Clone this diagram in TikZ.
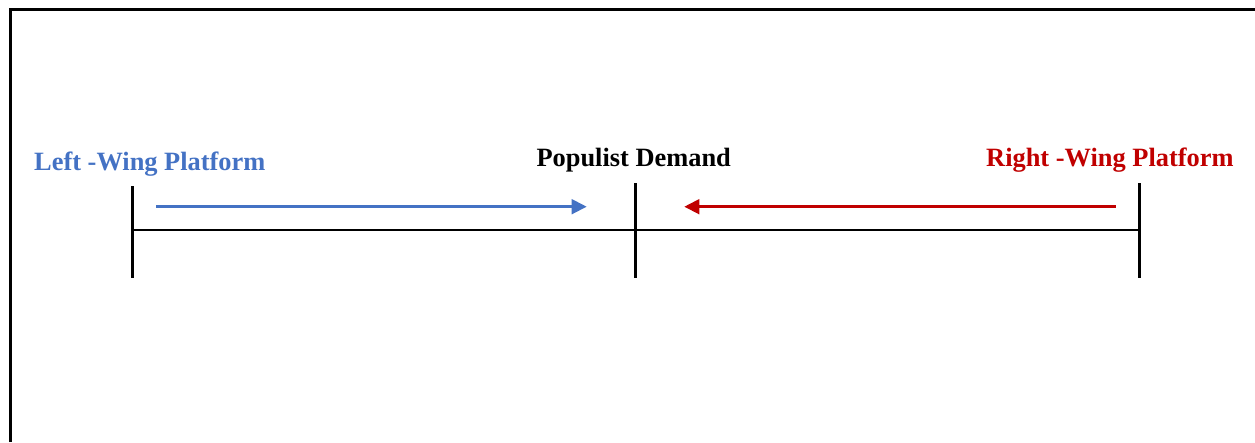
\documentclass[tikz,border=0pt]{standalone}
\usepackage{fontspec}
\setmainfont{Liberation Serif}
\usetikzlibrary{arrows.meta}
\definecolor{leftblue}{RGB}{68,114,196}
\definecolor{rightred}{RGB}{192,0,0}
\begin{document}
\begin{tikzpicture}[x=1pt,y=-1pt,
  lbl/.style={inner sep=0pt,font=\bfseries\fontsize{26.4}{30}\selectfont},
  tickline/.style={line width=2.8pt,black},
  axisline/.style={line width=2.8pt,black},
  moveline/.style={line width=2.6pt,-{Triangle[length=15pt,width=14.7pt]}}]
\useasboundingbox (0,0) rectangle (1255,442);
% frame (left and top edges)
\coordinate (fbl) at (10.5,442);
\coordinate (ftl) at (10.5,9.5);
\coordinate (ftr) at (1255,9.5);
\draw[line width=3.2pt,line join=miter] (fbl) -- (ftl) -- (ftr);
% ticks
\coordinate (lt) at (132.3,186);
\coordinate (lb) at (132.3,278);
\coordinate (mt) at (635.7,183);
\coordinate (mb) at (635.7,278);
\coordinate (rt) at (1139.3,183);
\coordinate (rb) at (1139.3,278);
\coordinate (la) at (132.3,230);
\coordinate (ra) at (1139.3,230);
\draw[tickline] (lt) -- (lb);
\draw[tickline] (mt) -- (mb);
\draw[tickline] (rt) -- (rb);
\draw[axisline] (la) -- (ra);
% arrows
\coordinate (bs) at (156,206.7);
\coordinate (be) at (586.7,206.7);
\coordinate (rs) at (1115.7,206.7);
\coordinate (re) at (684.3,206.7);
\draw[moveline,leftblue] (bs) -- (be);
\draw[moveline,rightred] (rs) -- (re);
% labels
\node[lbl,text=leftblue,anchor=base west] (left) at (34,170.5) {Left -Wing Platform};
\node[lbl,text=black,anchor=base] (mid) at (633.7,166.7) {Populist Demand};
\node[lbl,text=rightred,anchor=base west] (right) at (986,166.7) {Right -Wing Platform};
\end{tikzpicture}
\end{document}
